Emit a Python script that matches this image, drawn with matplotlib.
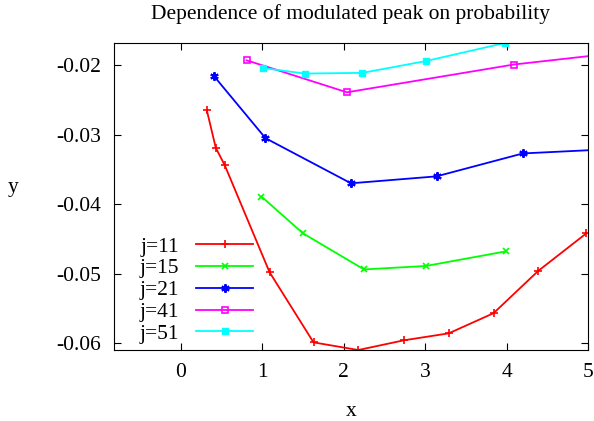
import numpy as np
import matplotlib
matplotlib.use('Agg')
import matplotlib.pyplot as plt

plt.rcParams['font.family'] = ['Liberation Serif', 'DejaVu Serif']
plt.rcParams['axes.unicode_minus'] = False

# j=11
x11 = [0.32, 0.43, 0.54, 1.09, 1.63, 2.18, 2.74, 3.29, 3.84, 4.39, 4.98]
y11 = [-0.0265, -0.0319, -0.0344, -0.0498, -0.0599, -0.0610, -0.0596, -0.0586, -0.0557, -0.0496, -0.0442]
# j=15
x15 = [0.99, 1.50, 2.25, 3.01, 3.99]
y15 = [-0.0389, -0.0442, -0.0494, -0.0489, -0.0468]
# j=21
x21 = [0.41, 1.04, 2.09, 3.14, 4.20, 5.25]
y21 = [-0.0216, -0.0305, -0.0370, -0.0360, -0.0327, -0.0321]
# j=41
x41 = [0.81, 2.04, 4.09, 5.30]
y41 = [-0.0193, -0.0239, -0.0199, -0.0183]
# j=51
x51 = [1.01, 1.52, 2.23, 3.01, 3.98]
y51 = [-0.0204, -0.0212, -0.0211, -0.0194, -0.0168]

fs = 15.5

fig = plt.figure(figsize=(5.94, 4.21), dpi=100)
ax = fig.add_axes([0.1919, 0.1686, 0.798, 0.7293])

ax.plot(x11, y11, '-', color='#ff0000', marker='+', ms=6, mew=1.2, lw=1.3, label='j=11')
ax.plot(x15, y15, '-', color='#00ff00', marker='x', ms=5, mew=1.2, lw=1.3, label='j=15')
ax.plot(x21, y21, '-', color='#0000ff', marker=(6, 2, 0), ms=6, mew=1.5, lw=1.3, label='j=21')
ax.plot(x41, y41, '-', color='#ff00ff', marker='s', ms=5, mew=1.2, mfc='none', lw=1.3, label='j=41')
ax.plot(x51, y51, '-', color='#00ffff', marker='s', ms=5, lw=1.3, label='j=51')

ax.set_xlim(-0.82, 5)
ax.set_ylim(-0.061, -0.0168)
ax.set_xticks([0, 1, 2, 3, 4, 5])
ax.set_yticks([-0.06, -0.05, -0.04, -0.03, -0.02])
ax.set_yticklabels(['-0.06', '-0.05', '-0.04', '-0.03', '-0.02'])
ax.tick_params(direction='in', top=True, right=True, labelsize=fs, length=5, pad=9)

ax.set_title('Dependence of modulated peak on probability', fontsize=fs, pad=17)
ax.set_xlabel('x', fontsize=fs, labelpad=15)
ax.set_ylabel('y', fontsize=fs, rotation=0)
ax.yaxis.set_label_coords(-0.213, 0.5)

ax.legend(loc='lower left', bbox_to_anchor=(0.013, -0.043), frameon=False, markerfirst=False,
          handlelength=2.65, fontsize=fs, labelspacing=0.08, handletextpad=0.8, numpoints=1)

fig.savefig('out.png', dpi=100)
